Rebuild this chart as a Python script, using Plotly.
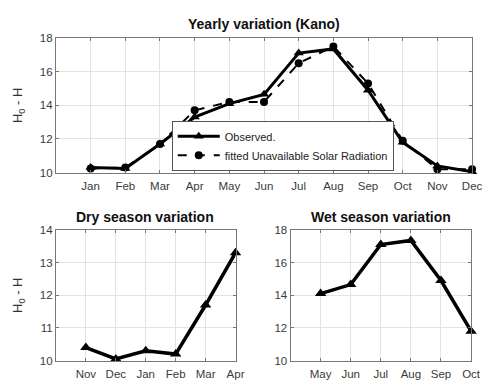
import plotly.graph_objects as go

months = ["Jan", "Feb", "Mar", "Apr", "May", "Jun", "Jul", "Aug", "Sep", "Oct", "Nov", "Dec"]
observed = [10.3, 10.25, 11.7, 13.3, 14.1, 14.65, 17.1, 17.35, 14.9, 11.8, 10.4, 10.05]
fitted = [10.25, 10.3, 11.7, 13.7, 14.2, 14.2, 16.5, 17.5, 15.3, 11.9, 10.2, 10.2]

dry_months = ["Nov", "Dec", "Jan", "Feb", "Mar", "Apr"]
dry_values = [10.4, 10.05, 10.3, 10.2, 11.7, 13.3]
wet_months = ["May", "Jun", "Jul", "Aug", "Sep", "Oct"]
wet_values = [14.1, 14.65, 17.1, 17.35, 14.9, 11.8]

W, H = 485, 386
FONT = "Liberation Sans, Arial, sans-serif"

def px_x(a, b):
    return [a / W, b / W]
def px_y(top, bottom):
    return [(H - bottom) / H, (H - top) / H]

fig = go.Figure()

pos12 = list(range(1, 13))
pos6 = list(range(1, 7))

fig.add_trace(go.Scatter(x=pos12, y=observed, mode="lines+markers", name="Observed.",
                         line=dict(color="black", width=3),
                         marker=dict(symbol="triangle-up", size=9, color="black"),
                         xaxis="x", yaxis="y", cliponaxis=False))
fig.add_trace(go.Scatter(x=pos12, y=fitted, mode="lines+markers", name="fitted Unavailable Solar Radiation",
                         line=dict(color="black", width=2, dash="dash"),
                         marker=dict(symbol="circle", size=8, color="black"),
                         xaxis="x", yaxis="y", cliponaxis=False))
fig.add_trace(go.Scatter(x=pos6, y=dry_values, mode="lines+markers", showlegend=False,
                         line=dict(color="black", width=3.5),
                         marker=dict(symbol="triangle-up", size=10, color="black"),
                         xaxis="x2", yaxis="y2", cliponaxis=False))
fig.add_trace(go.Scatter(x=pos6, y=wet_values, mode="lines+markers", showlegend=False,
                         line=dict(color="black", width=3.5),
                         marker=dict(symbol="triangle-up", size=10, color="black"),
                         xaxis="x3", yaxis="y3", cliponaxis=False))

axis_common = dict(showline=True, linecolor="#777777", linewidth=1, mirror="ticks",
                   ticks="inside", ticklen=3, tickcolor="#777777",
                   showgrid=True, gridcolor="#e3e3e3", gridwidth=1, zeroline=False,
                   tickfont=dict(family=FONT, size=11.5, color="#3a3a3a"))
xaxis_extra = dict(ticklabelstandoff=3)
ytitle = dict(text="H<sub>0</sub> - H", standoff=14, font=dict(family=FONT, size=13, color="#333333"))

fig.update_layout(
    width=W, height=H, margin=dict(l=0, r=0, t=0, b=0),
    paper_bgcolor="white", plot_bgcolor="white",
    font=dict(family=FONT, color="#222222"),
    xaxis=dict(domain=px_x(57, 481), range=[0, 12], tickvals=pos12, ticktext=months, anchor="y",
               **xaxis_extra, **axis_common),
    yaxis=dict(domain=px_y(33, 172), range=[10, 18], tickvals=[10, 12, 14, 16, 18], anchor="x",
               title=ytitle, **axis_common),
    xaxis2=dict(domain=px_x(57, 240), range=[0, 6], tickvals=pos6, ticktext=dry_months, anchor="y2",
                **xaxis_extra, **axis_common),
    yaxis2=dict(domain=px_y(231, 366), range=[10, 14], tickvals=[10, 11, 12, 13, 14], anchor="x2",
                title=ytitle, **axis_common),
    xaxis3=dict(domain=px_x(296, 480), range=[0, 6], tickvals=pos6, ticktext=wet_months, anchor="y3",
                **xaxis_extra, **axis_common),
    yaxis3=dict(domain=px_y(231, 366), range=[10, 18], tickvals=[10, 12, 14, 16, 18], anchor="x3",
                **axis_common),
    legend=dict(x=175 / W, y=(H - 170) / H, xanchor="left", yanchor="bottom",
                bgcolor="white", bordercolor="#555555", borderwidth=1,
                font=dict(family=FONT, size=11, color="#222222"), tracegroupgap=0,
                itemwidth=42),
    showlegend=True,
)

titles = [
    ("<b>Yearly variation (Kano)</b>", 269, 19),
    ("<b>Dry season variation</b>", 148, 218),
    ("<b>Wet season variation</b>", 388, 218),
]
for text, cx, cy in titles:
    fig.add_annotation(text=text, x=cx / W, y=(H - cy) / H, xref="paper", yref="paper",
                       showarrow=False, xanchor="center", yanchor="middle",
                       font=dict(size=14, color="#111111", family=FONT))

fig.write_html("out.html")
